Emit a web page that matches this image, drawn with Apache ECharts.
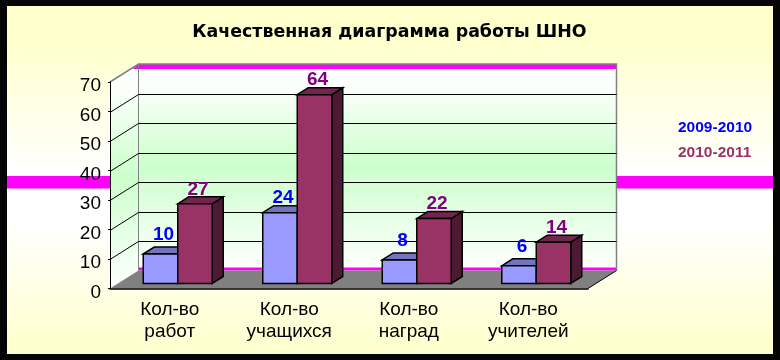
<!DOCTYPE html>
<html><head><meta charset="utf-8">
<style>html,body{margin:0;padding:0;background:#050505}#c{width:780px;height:360px}</style>
<script src="https://cdn.jsdelivr.net/npm/echarts@6/dist/echarts.min.js"></script>
</head><body><div id="c"></div>
<script>
const categories = ['Кол-во\nработ','Кол-во\nучащихся','Кол-во\nнаград','Кол-во\nучителей'];
const seriesNames = ['2009-2010','2010-2011'];
const values2009 = [10,24,8,6];
const values2010 = [27,64,22,14];
const gridTicks = [10,20,30,40,50,60];

const chart = echarts.init(document.getElementById('c'));
const FONT = '"Liberation Sans",Arial,sans-serif';
const DX = 28.5, DY = -18;      // depth of the pseudo-3D box
const BW = 34.5, BDX = 11, BDY = -7, OX = 8, OY = -5; // bar size and depth

function wallItem(params, api) {
  const g = params.coordSys, l = g.x, r = g.x + g.width, t = g.y, b = g.y + g.height;
  const grad = new echarts.graphic.LinearGradient(0,0,0,1,[
    {offset:0,color:'#ffffff'},{offset:.12,color:'#fbfffb'},{offset:.5,color:'#ccffcc'},{offset:1,color:'#ffffff'}]);
  return {type:'group',silent:true,children:[
    {type:'polygon',shape:{points:[[l,t],[l+DX,t+DY],[l+DX,b+DY],[l,b]]},style:{fill:grad}},
    {type:'rect',shape:{x:l+DX,y:t+DY,width:r-l,height:b-t},style:{fill:grad}},
    {type:'polygon',shape:{points:[[l+DX,t+DY],[r+DX,t+DY],[r+DX,t+DY+5],[l+DX-6,t+DY+5]]},style:{fill:'#ff00ff'}},
    {type:'rect',shape:{x:l+DX,y:b+DY-3,width:r-l,height:3},style:{fill:'#ff00ff'}},
    {type:'polyline',shape:{points:[[l,t],[l+DX,t+DY],[r+DX,t+DY],[r+DX,b+DY]]},style:{fill:'none',stroke:'#808080',lineWidth:1.5}},
    {type:'line',shape:{x1:l+DX,y1:t+DY,x2:l+DX,y2:b+DY},style:{stroke:'#808080',lineWidth:1}},
    {type:'polygon',shape:{points:[[l+DX,b+DY],[r+DX,b+DY],[r,b],[l,b]]},style:{fill:'#808080'}},
    {type:'line',shape:{x1:r,y1:b,x2:r+DX,y2:b+DY},style:{stroke:'#000',lineWidth:1}}
  ]};
}
function gridItem(params, api) {
  const g = params.coordSys, l = g.x, r = g.x + g.width;
  const y = Math.round(api.coord([0, api.value(0)])[1]) + .5;
  return {type:'group',silent:true,children:[
    {type:'line',shape:{x1:l,y1:y,x2:l+DX,y2:y+DY},style:{stroke:'#000',lineWidth:1}},
    {type:'line',shape:{x1:l+DX,y1:y+DY,x2:r+DX,y2:y+DY},style:{stroke:'#000',lineWidth:1}}
  ]};
}
function barRenderer(side, front, top, dark, labelColor) {
  return function(params, api) {
    const i = api.value(0), v = api.value(1);
    const p = api.coord([i, v]), p0 = api.coord([i, 0]);
    const x0 = p[0] + OX + (side < 0 ? -BW : 0), x1 = x0 + BW, yT = p[1] + OY, yB = p0[1] + OY;
    const st = {stroke:'#000',lineWidth:1.5,lineJoin:'miter'};
    return {type:'group',children:[
      {type:'polygon',shape:{points:[[x1,yT],[x1+BDX,yT+BDY],[x1+BDX,yB+BDY],[x1,yB]]},style:Object.assign({fill:dark},st)},
      {type:'polygon',shape:{points:[[x0,yT],[x0+BDX,yT+BDY],[x1+BDX,yT+BDY],[x1,yT]]},style:Object.assign({fill:top},st)},
      {type:'rect',shape:{x:x0,y:yT,width:BW,height:yB-yT},style:Object.assign({fill:front},st)},
      {type:'text',style:{text:String(v),x:(x0+x1)/2+3,y:yT-(v<=10?19:14.5),align:'center',verticalAlign:'middle',
        fill:labelColor,font:'bold 19px '+FONT}}
    ]};
  };
}
chart.setOption({
  animation:false,
  backgroundColor:'#050505',
  graphic:[
    {type:'rect',z:0,silent:true,shape:{x:7,y:6,width:766,height:348},
     style:{fill:new echarts.graphic.LinearGradient(0,0,0,1,[
       {offset:0,color:'#ffffcc'},{offset:.09,color:'#ffffcc'},{offset:.48,color:'#ffffff'},{offset:.62,color:'#ffffff'},{offset:1,color:'#ffffcc'}])}},
    {type:'rect',z:0,silent:true,shape:{x:7,y:176,width:766,height:12.5},style:{fill:'#ff00ff'}}
  ],
  title:{text:'Качественная диаграмма работы ШНО',left:384.5,textAlign:'center',top:19,
    textStyle:{fontFamily:'"DejaVu Sans",sans-serif',fontSize:17.4,fontWeight:'bold',color:'#000'}},
  legend:{orient:'vertical',left:673,top:115,itemWidth:0,itemHeight:0,itemGap:8.5,selectedMode:false,
    data:[
      {name:seriesNames[0],icon:'rect',textStyle:{color:'#0000ff'}},
      {name:seriesNames[1],icon:'rect',textStyle:{color:'#993366'}}
    ],
    textStyle:{fontFamily:FONT,fontSize:15.5,fontWeight:'bold',padding:[0,0,0,-5]}},
  grid:{left:110,top:82,width:478,height:206.5},
  xAxis:{type:'category',data:categories,z:3,boundaryGap:true,
    axisLine:{lineStyle:{color:'#000',width:1.5}},
    axisTick:{length:3,lineStyle:{color:'#000'},alignWithLabel:false},
    axisLabel:{color:'#000',fontFamily:FONT,fontSize:19,lineHeight:22,margin:10,interval:0}},
  yAxis:{type:'value',min:0,max:70,interval:10,z:3,
    axisLine:{show:true,lineStyle:{color:'#000',width:1}},
    axisTick:{show:true,length:2,lineStyle:{color:'#000'}},
    splitLine:{show:false},
    axisLabel:{color:'#000',fontFamily:FONT,fontSize:19,margin:9,verticalAlign:'top',lineHeight:8}},
  series:[
    {type:'custom',name:'wall',z:1,renderItem:wallItem,data:[[0]],silent:true,clip:false,encode:{y:0}},
    {type:'custom',name:'grid',z:2,renderItem:gridItem,data:gridTicks.map(v=>[v]),silent:true,clip:false,encode:{y:0}},
    {type:'custom',name:seriesNames[0],z:4,itemStyle:{color:'#0000ff'},clip:false,encode:{x:0,y:1},
      renderItem:barRenderer(-1,'#9999ff','#7373bf','#4d4d80','#0000ff'),
      data:values2009.map((v,i)=>[i,v])},
    {type:'custom',name:seriesNames[1],z:5,itemStyle:{color:'#993366'},clip:false,encode:{x:0,y:1},
      renderItem:barRenderer(1,'#993366','#73264d','#4d1a33','#800080'),
      data:values2010.map((v,i)=>[i,v])}
  ]
});
</script></body></html>
